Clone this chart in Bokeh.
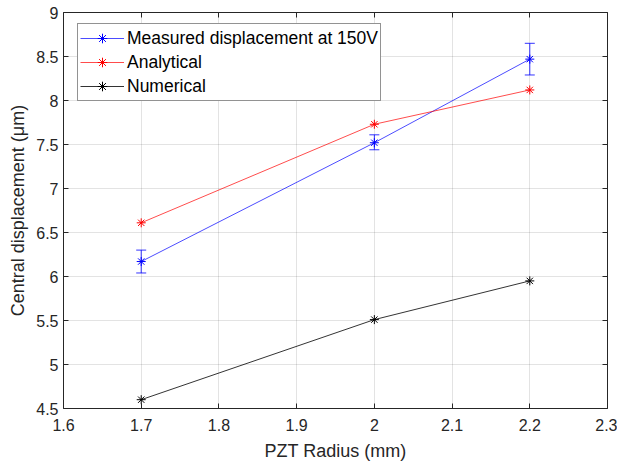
from bokeh.plotting import figure
from bokeh.models import (ColumnDataSource, FixedTicker, LinearAxis, Whisker,
                          TeeHead, Legend, LegendItem, Range1d)
from bokeh.embed import file_html
from bokeh.resources import INLINE

# ---- data ----
radius = [1.7, 2.0, 2.2]
measured = [6.17, 7.52, 8.47]
measured_lower = [6.04, 7.44, 8.29]
measured_upper = [6.30, 7.61, 8.65]
analytical = [6.61, 7.73, 8.12]
numerical = [4.60, 5.51, 5.95]

x_ticks = [1.6, 1.7, 1.8, 1.9, 2.0, 2.1, 2.2, 2.3]
x_tick_labels = ["1.6", "1.7", "1.8", "1.9", "2", "2.1", "2.2", "2.3"]
y_ticks = [4.5, 5.0, 5.5, 6.0, 6.5, 7.0, 7.5, 8.0, 8.5, 9.0]
y_tick_labels = ["4.5", "5", "5.5", "6", "6.5", "7", "7.5", "8", "8.5", "9"]

FONT = "Liberation Sans"
AX = "#262626"

p = figure(frame_width=544, frame_height=396, output_backend="svg", toolbar_location=None,
           x_range=Range1d(1.6, 2.3), y_range=Range1d(4.5, 9.0),
           min_border_left=63, min_border_right=10, min_border_top=12,
           min_border_bottom=56, x_axis_label="PZT Radius (mm)",
           y_axis_label="Central displacement (μm)")
p.outline_line_color = None
p.background_fill_color = "white"

for ax, ticks, labels in ((p.xaxis[0], x_ticks, x_tick_labels),
                          (p.yaxis[0], y_ticks, y_tick_labels)):
    ax.ticker = FixedTicker(ticks=ticks)
    ax.major_label_overrides = {t: l for t, l in zip(ticks, labels)}
    ax.major_tick_in = 5
    ax.major_tick_out = 0
    ax.minor_tick_line_color = None
    ax.axis_line_color = AX
    ax.major_tick_line_color = AX
    ax.major_label_text_font = FONT
    ax.major_label_text_font_size = "16px"
    ax.major_label_text_color = AX
    ax.axis_label_text_font = FONT
    ax.axis_label_text_font_size = "18px"
    ax.axis_label_text_font_style = "normal"
    ax.axis_label_text_color = AX

p.xaxis[0].major_label_standoff = 10
p.xaxis[0].axis_label_standoff = 7
p.yaxis[0].major_label_standoff = 5
p.yaxis[0].axis_label_standoff = 5

for loc, ticks in (("above", x_ticks), ("right", y_ticks)):
    a = LinearAxis(ticker=FixedTicker(ticks=ticks), major_tick_in=5,
                   major_tick_out=0, minor_tick_line_color=None,
                   axis_line_color=AX, major_tick_line_color=AX,
                   major_label_overrides={t: "" for t in ticks},
                   major_label_text_color=None,
                   major_label_text_font_size="1px", major_label_standoff=0)
    p.add_layout(a, loc)

p.xgrid[0].ticker = FixedTicker(ticks=x_ticks)
p.ygrid[0].ticker = FixedTicker(ticks=y_ticks)
p.grid.grid_line_color = AX
p.grid.grid_line_alpha = 0.13
p.grid.grid_line_width = 1

src_m = ColumnDataSource(dict(x=radius, y=measured, lo=measured_lower, up=measured_upper))
w = Whisker(base="x", upper="up", lower="lo", source=src_m, line_color="#0000ff",
            line_width=1, line_alpha=0.8,
            upper_head=TeeHead(size=10, line_color="#0000ff", line_width=1, line_alpha=0.8),
            lower_head=TeeHead(size=10, line_color="#0000ff", line_width=1, line_alpha=0.8))
p.add_layout(w)

l_m = p.line("x", "y", source=src_m, line_color="#0000ff", line_width=1, line_alpha=0.7)
s_m = p.scatter("x", "y", source=src_m, marker="asterisk", size=9, line_color="#0000ff", line_width=1)
l_a = p.line(radius, analytical, line_color="#ff0000", line_width=1, line_alpha=0.7)
s_a = p.scatter(radius, analytical, marker="asterisk", size=9, line_color="#ff0000", line_width=1)
l_n = p.line(radius, numerical, line_color="#000000", line_width=1, line_alpha=0.8)
s_n = p.scatter(radius, numerical, marker="asterisk", size=9, line_color="#000000", line_width=1)

legend = Legend(items=[
    LegendItem(label="Measured displacement at 150V", renderers=[l_m, s_m]),
    LegendItem(label="Analytical", renderers=[l_a, s_a]),
    LegendItem(label="Numerical", renderers=[l_n, s_n]),
], location=(14, 307))
legend.label_text_font = FONT
legend.label_text_font_size = "17.5px"
legend.label_text_color = "black"
legend.glyph_width = 44
legend.glyph_height = 24
legend.label_height = 24
legend.label_standoff = 3
legend.spacing = 0
legend.padding = 2
legend.margin = 0
legend.border_line_color = AX
legend.border_line_width = 1
legend.background_fill_color = "white"
legend.background_fill_alpha = 1
p.add_layout(legend, "center")

open("out.html", "w").write(file_html(p, INLINE))
